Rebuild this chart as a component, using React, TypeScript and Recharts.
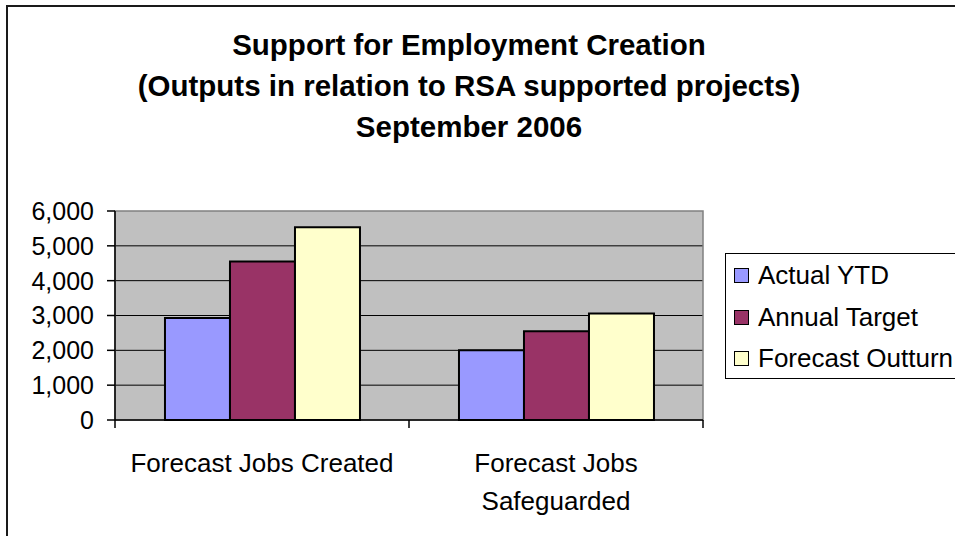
import React from 'react'
import { BarChart, Bar, XAxis, YAxis, CartesianGrid, Legend, ReferenceArea } from 'recharts'

const categories = ['Forecast Jobs Created', 'Forecast Jobs Safeguarded']
const actualYTD = [2930, 2000]
const annualTarget = [4550, 2550]
const forecastOutturn = [5530, 3060]
const seriesNames = ['Actual YTD', 'Annual Target', 'Forecast Outturn']
const seriesColors = ['#9999ff', '#993366', '#ffffcc']
const yTicks = [0, 1000, 2000, 3000, 4000, 5000, 6000]
const titleLines = [
  'Support for Employment Creation',
  '(Outputs in relation to RSA supported projects)',
  'September 2006',
]

const FONT = '"Liberation Sans", Arial, Helvetica, sans-serif'

const data = categories.map((name, i) => ({
  name,
  actual: actualYTD[i],
  target: annualTarget[i],
  outturn: forecastOutturn[i],
}))
const seriesKeys = ['actual', 'target', 'outturn']

// word-wrap a label to the category width, like Excel does
function wrapLabel(text: string, maxW: number, font: string) {
  const ctx = document.createElement('canvas').getContext('2d')
  if (!ctx) return [text]
  ctx.font = font
  const lines: string[] = []
  let cur = ''
  for (const w of text.split(' ')) {
    const next = cur ? cur + ' ' + w : w
    if (cur && ctx.measureText(next).width > maxW) {
      lines.push(cur)
      cur = w
    } else {
      cur = next
    }
  }
  if (cur) lines.push(cur)
  return lines
}

// label plus Excel-style tick marks on the category boundaries
function CategoryTick(props: any) {
  const { x, y, payload, index, visibleTicksCount } = props
  const half = payload.offset ?? 0
  const lines = wrapLabel(payload.value, 280, `26px ${FONT}`)
  const edges = [x - half]
  if (index === visibleTicksCount - 1) edges.push(x + half)
  return (
    <g>
      {half > 0 &&
        edges.map((ex, i) => <line key={i} x1={ex} x2={ex} y1={y} y2={y + 8} stroke="#000" strokeWidth={1.5} />)}
      <text x={x} y={y + 52} textAnchor="middle" style={{ fontSize: 26, fontFamily: FONT }} fill="#000">
        {lines.map((l, i) => (
          <tspan key={i} x={x} dy={i === 0 ? 0 : 38}>
            {l}
          </tspan>
        ))}
      </text>
    </g>
  )
}

function LegendBox() {
  return (
    <div
      style={{
        boxSizing: 'border-box',
        width: 300,
        height: 126,
        border: '1.5px solid #000',
        background: '#fff',
        paddingTop: 1,
        fontFamily: FONT,
        fontSize: 26,
        color: '#000',
      }}
    >
      {seriesNames.map((n, i) => (
        <div key={n} style={{ height: 41.5, display: 'flex', alignItems: 'center', paddingLeft: 8, whiteSpace: 'nowrap' }}>
          <span
            style={{
              display: 'inline-block',
              boxSizing: 'border-box',
              flexShrink: 0,
              width: 15,
              height: 15,
              background: seriesColors[i],
              border: '1.5px solid #000',
              marginRight: 9,
            }}
          />
          {n}
        </div>
      ))}
    </div>
  )
}

export default function App() {
  return (
    <div style={{ position: 'absolute', left: 0, top: 0, width: 955, height: 536, overflow: 'hidden', background: '#fff' }}>
      <div
        style={{
          position: 'absolute',
          left: 6,
          top: 5,
          width: 1000,
          height: 600,
          border: '2px solid #1a1a1a',
        }}
      />
      <BarChart
        width={955}
        height={536}
        data={data}
        margin={{ top: 211, right: 252, bottom: 0, left: 0 }}
        barCategoryGap="17%"
        barGap={0}
        style={{ position: 'absolute', left: 0, top: 0 }}
      >
        <CartesianGrid
          fill="#c0c0c0"
          fillOpacity={1}
          stroke="#000"
          vertical={false}
          horizontalValues={[1000, 2000, 3000, 4000, 5000]}
        />
        <ReferenceArea y1={0} y2={6000} fill="none" stroke="#808080" strokeWidth={1.5} />
        <XAxis
          dataKey="name"
          height={116}
          interval={0}
          axisLine={{ stroke: '#000', strokeWidth: 1.5 }}
          tickLine={false}
          tickSize={0}
          tickMargin={0}
          tick={<CategoryTick />}
        />
        <YAxis
          width={115}
          domain={[0, 6000]}
          ticks={yTicks}
          interval={0}
          tickFormatter={(v: number) => v.toLocaleString('en-US')}
          axisLine={{ stroke: '#000', strokeWidth: 1.5 }}
          tickLine={{ stroke: '#000', strokeWidth: 1.5 }}
          tickSize={8}
          tickMargin={13}
          tick={{ fontSize: 25, fill: '#000', fontFamily: FONT }}
        />
        <Legend
          layout="vertical"
          align="center"
          verticalAlign="middle"
          wrapperStyle={{ position: 'absolute', left: 725, top: 253, width: 300, height: 126 }}
          content={() => <LegendBox />}
        />
        {seriesKeys.map((k, i) => (
          <Bar
            key={k}
            dataKey={k}
            name={seriesNames[i]}
            fill={seriesColors[i]}
            stroke="#000"
            strokeWidth={2}
            isAnimationActive={false}
          />
        ))}
      </BarChart>
      <div
        style={{
          position: 'absolute',
          left: 0,
          top: 24,
          width: 938,
          textAlign: 'center',
          fontFamily: FONT,
          fontWeight: 'bold',
          fontSize: 29.5,
          lineHeight: '41px',
          color: '#000',
        }}
      >
        {titleLines.map(t => (
          <div key={t}>{t}</div>
        ))}
      </div>
    </div>
  )
}
